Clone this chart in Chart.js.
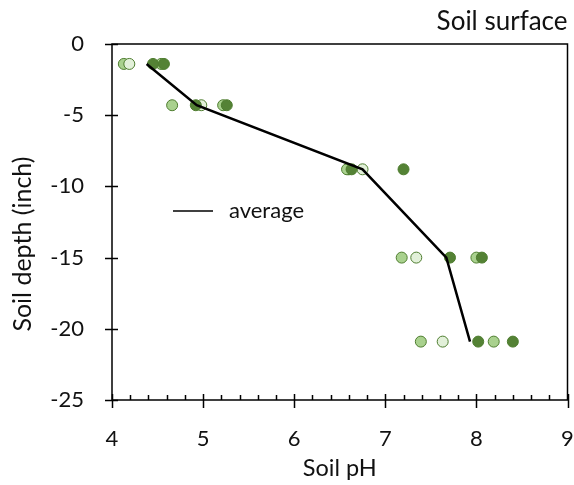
<!DOCTYPE html>
<html>
<head>
<meta charset="utf-8">
<script src="https://cdn.jsdelivr.net/npm/chart.js@4.4.1/dist/chart.umd.min.js"></script>
<style>
    html, body { margin: 0; padding: 0; background: #fff; }
    #wrap { width: 574px; height: 485px; }
</style>
</head>
<body>
<div id="wrap"><canvas id="chart"></canvas></div>
<script>
const depths = [-1.4, -4.3, -8.8, -15, -20.9];
const phMidA = [4.13, 4.66, 6.58, 7.18, 7.39];
const phPale = [4.19, 4.98, 6.75, 7.34, 7.63];
const phDarkA = [4.45, 4.92, 6.63, 7.71, 8.02];
const phMidB = [4.54, 5.22, 6.60, 8.00, 8.19];
const phDarkB = [4.57, 5.26, 7.20, 8.06, 8.40];
const phAverage = [4.38, 4.93, 6.75, 7.67, 7.93];

const xTicks = [4, 5, 6, 7, 8, 9];
const yTicks = [0, -5, -10, -15, -20, -25];

const FONT = "Lato, 'Open Sans', sans-serif";

function pairs(xs) {
    return xs.map((v, i) => ({ x: v, y: depths[i] }));
}

function pointSet(xs, fill) {
    return {
        type: "scatter",
        data: pairs(xs),
        backgroundColor: fill,
        borderColor: "#4e7d2f",
        borderWidth: 1,
        pointRadius: 5.5,
        showLine: false
    };
}

// frame, ticks, titles and the in-plot legend
const decor = {
    id: "decor",
    afterDraw(chart) {
        const { ctx, chartArea: a, scales: { x, y } } = chart;
        ctx.save();
        ctx.strokeStyle = "#000";
        ctx.lineWidth = 1.5;
        ctx.strokeRect(a.left, a.top, a.right - a.left, a.bottom - a.top);

        ctx.beginPath();
        xTicks.forEach(v => {
            const px = Math.round(x.getPixelForValue(v)) + 0.5;
            ctx.moveTo(px, a.bottom - 6);
            ctx.lineTo(px, a.bottom + 8);
        });
        for (let v = x.min; v < x.max; v += 0.2) {
            const px = Math.round(x.getPixelForValue(v)) + 0.5;
            ctx.moveTo(px, a.bottom);
            ctx.lineTo(px, a.bottom - 5);
        }
        yTicks.forEach(v => {
            const py = Math.round(y.getPixelForValue(v)) + 0.5;
            ctx.moveTo(a.left - 7, py);
            ctx.lineTo(a.left + 6, py);
        });
        ctx.stroke();

        ctx.fillStyle = "#111";
        ctx.font = "26px " + FONT;
        ctx.textAlign = "right";
        ctx.textBaseline = "middle";
        ctx.fillText("Soil surface", a.right, 22);

        // y title sits a bit below the plot's middle, as in the original
        ctx.save();
        ctx.translate(23, 244);
        ctx.rotate(-Math.PI / 2);
        ctx.textAlign = "center";
        ctx.font = "25px " + FONT;
        ctx.fillText("Soil depth (inch)", 0, 0);
        ctx.restore();

        const lx = a.left + 61, ly = a.top + 167;
        ctx.beginPath();
        ctx.lineWidth = 1.5;
        ctx.moveTo(lx, ly);
        ctx.lineTo(lx + 40, ly);
        ctx.stroke();
        ctx.font = "22px " + FONT;
        ctx.textAlign = "left";
        ctx.fillText("average", lx + 56, ly);
        ctx.restore();
    }
};

new Chart(document.getElementById("chart"), {
    type: "scatter",
    data: {
        datasets: [
            {
                type: "line",
                label: "average",
                data: pairs(phAverage),
                borderColor: "#000",
                borderWidth: 2.5,
                pointRadius: 0,
                fill: false,
                tension: 0
            },
            pointSet(phDarkA, "#548235"),
            pointSet(phDarkB, "#548235"),
            pointSet(phPale, "#e2f0d9"),
            pointSet(phMidA, "#a9d18e"),
            pointSet(phMidB, "#a9d18e")
        ]
    },
    options: {
        responsive: true,
        maintainAspectRatio: false,
        animation: false,
        layout: {
            padding: { top: 44, right: 6, left: 0, bottom: 0 }
        },
        scales: {
            x: {
                type: "linear",
                min: 4,
                max: 9,
                grid: { display: false },
                border: { display: false },
                ticks: {
                    stepSize: 1,
                    padding: 18,
                    color: "#111",
                    font: { family: FONT, size: 22 }
                },
                title: {
                    display: true,
                    text: "Soil pH",
                    color: "#111",
                    font: { family: FONT, size: 23.5 },
                    padding: { top: 0, bottom: 2 }
                },
                afterFit(s) {
                    s.height = 85;
                    s.paddingLeft = 0;
                    s.paddingRight = 0;
                }
            },
            y: {
                type: "linear",
                min: -25,
                max: 0,
                grid: { display: false },
                border: { display: false },
                ticks: {
                    stepSize: 5,
                    padding: 20,
                    color: "#111",
                    font: { family: FONT, size: 22 }
                },
                title: { display: false },
                afterFit(s) {
                    s.width = 112;
                    s.paddingTop = 0;
                    s.paddingBottom = 0;
                }
            }
        },
        plugins: {
            legend: { display: false },
            tooltip: { enabled: false }
        }
    },
    plugins: [decor]
});
</script>
</body>
</html>
